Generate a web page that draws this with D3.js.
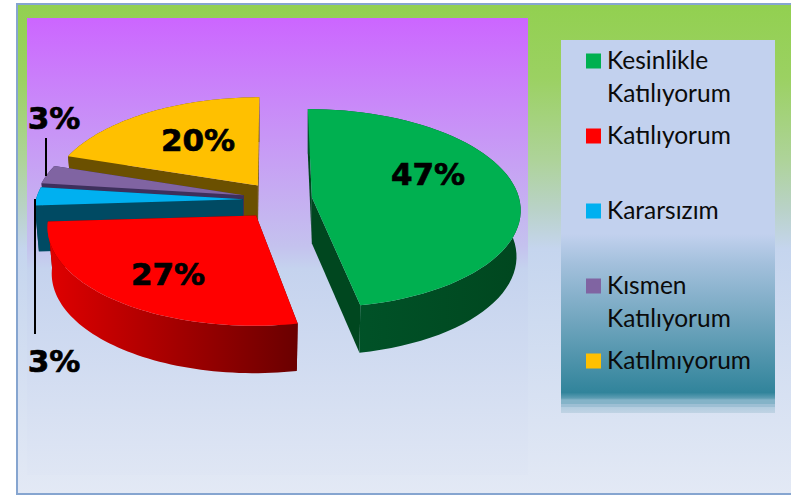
<!DOCTYPE html>
<html>
<head>
<meta charset="utf-8">
<script src="https://cdn.jsdelivr.net/npm/d3@7"></script>
<style>
  html, body { margin: 0; padding: 0; background: #fff; }
  svg { display: block; }
  .legend-text { font-family: Lato, "Open Sans", sans-serif; font-size: 24.5px; fill: #0b0b0b; }
  .pct { font-family: "DejaVu Sans", sans-serif; font-weight: bold; font-size: 31px; fill: #000; stroke: #000; stroke-width: 0.7px; }
</style>
</head>
<body>
<div id="chart"></div>
<script>
const categories = ["Kesinlikle Katılıyorum", "Katılıyorum", "Kararsızım", "Kısmen Katılıyorum", "Katılmıyorum"];
const values = [47, 27, 3, 3, 20];
const colors = ["#00b050", "#ff0000", "#00b0f0", "#8064a2", "#ffc000"];

// how far each slice is pulled out of the pie
const explode = [40, 26, 29, 29, 24];
const sideColors = [
  ["#00552a", "#00471f"],
  ["#e00000", "#6a0000"],
  ["#004a63", "#004a63"],
  ["#3d2f5c", "#3d2f5c"],
  ["#6b5000", "#6b5000"]
];

const width = 791, height = 498;
const cx = 272, cy = 200;   // pie centre
const rx = 207, ry = 98;    // radii on screen
const persp = 0.112;        // back of the pie is smaller than the front
const depth = 46;

const svg = d3.select("#chart").append("svg").attr("width", width).attr("height", height);
const defs = svg.append("defs");

function vGrad(id, stops) {
  const g = defs.append("linearGradient").attr("id", id)
    .attr("x1", 0).attr("y1", 0).attr("x2", 0).attr("y2", 1);
  stops.forEach((s) => g.append("stop").attr("offset", s[0]).attr("stop-color", s[1]));
}

vGrad("frameFill", [[0, "#92d050"], [0.15, "#9bd162"], [0.32, "#aed39a"], [0.42, "#b9d2c8"], [0.5, "#c5d5ee"], [1, "#e3e9f5"]]);
vGrad("plotFill", [[0, "#cc66ff"], [0.5, "#c4c2ee"], [0.55, "#c5d3ee"], [1, "#dfe6f4"]]);
vGrad("legendFill", [
  [0, "#c2d1ee"], [0.52, "#c2d1ee"], [0.6, "#a3c0dc"], [0.75, "#72a6bf"], [0.945, "#31849b"],
  [0.96, "#5d9db3"], [0.965, "#84b3c8"], [0.975, "#84b3c8"], [0.975, "#9dbfd4"], [0.985, "#9dbfd4"],
  [0.985, "#b3cde0"], [1, "#c0d3e4"]
]);

svg.append("rect").attr("x", 17).attr("y", 4).attr("width", 790).attr("height", 490)
  .attr("fill", "url(#frameFill)").attr("stroke", "#86a5d0").attr("stroke-width", 2);
svg.append("rect").attr("x", 27).attr("y", 18).attr("width", 501).attr("height", 457)
  .attr("fill", "url(#plotFill)");

// d3.pie gives the angles, clockwise from the back of the pie
const arcs = d3.pie().sort(null).value((d) => d)(values);

// rim point of a slice, t is the angle, r 0..1, z 0 top 1 bottom
function project(i, t, r, z) {
  const mid = (arcs[i].startAngle + arcs[i].endAngle) / 2;
  const ex = explode[i] * Math.sin(mid);
  const ey = explode[i] * Math.cos(mid) * 0.75;
  const Y = r * Math.cos(t);
  const s = 1 / (1 + persp * Y);
  const x = cx + (ex + rx * r * Math.sin(t) * (1 - 0.02 * z)) * s;
  const y = cy - ey - ry * Y * s + depth * z * (1 - 0.03 * Y);
  return [x, y];
}

function rimPoints(i, z) {
  const a = arcs[i];
  return d3.range(0, 61).map((k) => {
    const t = a.startAngle + ((a.endAngle - a.startAngle) * k) / 60;
    return project(i, t, 1, z);
  });
}

const line = d3.line();
const slices = svg.append("g");

// back slices first, the front ones cover them
[4, 3, 2, 1, 0].forEach((i) => {
  const top = rimPoints(i, 0);
  const bottom = rimPoints(i, 1);
  const apexTop = project(i, 0, 0, 0);
  const apexBot = project(i, 0, 0, 1);

  const gradId = "side" + i;
  const xs = d3.extent(top, (p) => p[0]);
  const g = defs.append("linearGradient").attr("id", gradId)
    .attr("gradientUnits", "userSpaceOnUse")
    .attr("x1", xs[0]).attr("x2", xs[1]).attr("y1", 0).attr("y2", 0);
  g.append("stop").attr("offset", 0).attr("stop-color", sideColors[i][0]);
  g.append("stop").attr("offset", 1).attr("stop-color", sideColors[i][1]);

  const face = slices.append("g");
  // the two cut faces
  [0, 60].forEach((k) => {
    face.append("path")
      .attr("d", line([apexTop, top[k], bottom[k], apexBot]) + "Z")
      .attr("fill", i === 1 ? "#6a0000" : sideColors[i][1]);
  });
  // the rim
  face.append("path")
    .attr("d", line(top.concat(bottom.slice().reverse())) + "Z")
    .attr("fill", "url(#" + gradId + ")");
  // the top
  face.append("path")
    .attr("d", line([apexTop].concat(top)) + "Z")
    .attr("fill", colors[i]);
});

// leader lines for the two small slices
const leaders = [[46, 138, 46, 176], [35, 199, 35, 334]];
svg.selectAll(".leader").data(leaders).join("line")
  .attr("class", "leader")
  .attr("x1", (d) => d[0]).attr("y1", (d) => d[1])
  .attr("x2", (d) => d[2]).attr("y2", (d) => d[3])
  .attr("stroke", "#000").attr("stroke-width", 2);

const labelPos = [[428, 185], [168, 285], [54, 372], [54, 129], [198, 151]];
svg.selectAll(".pct").data(values).join("text")
  .attr("class", "pct")
  .attr("x", (d, i) => labelPos[i][0])
  .attr("y", (d, i) => labelPos[i][1])
  .attr("text-anchor", "middle")
  .text((d) => d + "%");

// legend
svg.append("rect").attr("x", 561).attr("y", 40).attr("width", 214).attr("height", 373)
  .attr("fill", "url(#legendFill)");

const legendY = d3.scalePoint().domain(categories).range([61, 361]);
const legend = svg.selectAll(".legend-item").data(categories).join("g")
  .attr("class", "legend-item")
  .attr("transform", (d) => "translate(586," + legendY(d) + ")");
legend.append("rect").attr("y", -7.5).attr("width", 15).attr("height", 15)
  .attr("fill", (d, i) => colors[i]);
legend.each(function (d) {
  const words = d.split(" ");
  d3.select(this).selectAll("text").data(words).join("text")
    .attr("class", "legend-text")
    .attr("x", 21)
    .attr("y", (w, j) => 8 + j * 32.5)
    .text((w) => w);
});
</script>
</body>
</html>
